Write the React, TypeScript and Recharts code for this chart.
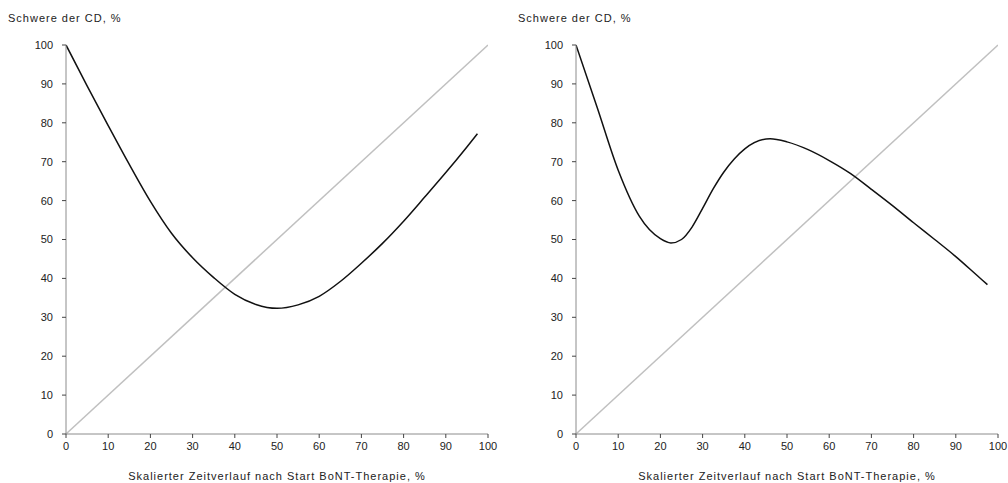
import React from 'react';
import { LineChart, Line, XAxis, YAxis, Label } from 'recharts';

// Values (x = scaled time %, y = CD severity %)
const leftX = [0, 5, 10, 15, 20, 25, 30, 35, 40, 45, 50, 55, 60, 65, 70, 75, 80, 85, 90, 95, 97.5];
const leftY = [100, 89.5, 79.3, 69.3, 59.8, 51.6, 45.3, 40.2, 35.9, 33.3, 32.3, 33.2, 35.4, 39.2, 43.9, 49, 54.7, 60.9, 67.2, 73.8, 77.2];

const rightX = [0, 5, 10, 15, 20, 22.5, 25, 27.5, 30, 32.5, 35, 37.5, 40, 46, 50, 55, 60, 65, 70, 75, 80, 85, 90, 95, 97.5];
const rightY = [100, 84, 67.8, 56, 50.2, 49.1, 50, 53.2, 58, 63, 67.3, 70.7, 73.3, 75.9, 75.1, 73.1, 70.3, 67, 62.9, 58.7, 54.3, 50, 45.6, 40.8, 38.4];

const diagX = [0, 100];
const diagY = [0, 100];

const xTicks = [0, 10, 20, 30, 40, 50, 60, 70, 80, 90, 100];
const yTicks = [0, 10, 20, 30, 40, 50, 60, 70, 80, 90, 100];

const yTitle = 'Schwere der CD, %';
const xTitle = 'Skalierter Zeitverlauf nach Start BoNT-Therapie, %';

const font = '"Liberation Sans", Arial, sans-serif';
const textColor = '#222';

const toPoints = (xs: number[], ys: number[]) => xs.map((x, i) => ({ x, y: ys[i] }));

const leftData = toPoints(leftX, leftY);
const rightData = toPoints(rightX, rightY);
const diagData = toPoints(diagX, diagY);

interface PanelProps {
    data: { x: number; y: number }[];
    marginLeft: number;
    marginRight: number;
}

const Panel: React.FC<PanelProps> = ({ data, marginLeft, marginRight }) => {
    const tickStyle = { fontSize: 11, fill: textColor, fontFamily: font };
    return (
        <LineChart
            width={504}
            height={483}
            margin={{ top: 45, right: marginRight, bottom: 19, left: marginLeft }}
        >
            <XAxis
                type="number"
                dataKey="x"
                domain={[0, 100]}
                ticks={xTicks}
                allowDataOverflow
                height={30}
                tickSize={4}
                tickMargin={4}
                tick={tickStyle}
                axisLine={{ stroke: '#8c8c8c', strokeWidth: 1 }}
                tickLine={{ stroke: '#444' }}
            >
                <Label
                    value={xTitle}
                    position="bottom"
                    offset={8}
                    style={{ fontSize: 11, fill: textColor, fontFamily: font, letterSpacing: 1 }}
                />
            </XAxis>
            <YAxis
                type="number"
                dataKey="y"
                domain={[0, 100]}
                ticks={yTicks}
                width={50}
                tickSize={4}
                tickMargin={9}
                tick={tickStyle}
                axisLine={{ stroke: '#8c8c8c', strokeWidth: 1 }}
                tickLine={{ stroke: '#444' }}
            />
            <Line
                data={diagData}
                dataKey="y"
                type="linear"
                stroke="#c0c0c0"
                strokeWidth={1.5}
                dot={false}
                isAnimationActive={false}
            />
            <Line
                data={data}
                dataKey="y"
                type="monotone"
                stroke="#111"
                strokeWidth={1.5}
                dot={false}
                isAnimationActive={false}
            />
        </LineChart>
    );
};

const titleStyle: React.CSSProperties = {
    position: 'absolute',
    top: 12,
    fontSize: 11,
    letterSpacing: 1,
    fontFamily: font,
    color: textColor,
    whiteSpace: 'nowrap',
};

export default function App() {
    return (
        <div style={{ position: 'absolute', left: 0, top: 0, width: 1008, height: 483, background: '#fff' }}>
            <div style={{ position: 'absolute', left: 0, top: 0 }}>
                <Panel data={leftData} marginLeft={16} marginRight={16} />
            </div>
            <div style={{ position: 'absolute', left: 504, top: 0 }}>
                <Panel data={rightData} marginLeft={22} marginRight={10} />
            </div>
            <div style={{ ...titleStyle, left: 8 }}>{yTitle}</div>
            <div style={{ ...titleStyle, left: 518 }}>{yTitle}</div>
        </div>
    );
}
